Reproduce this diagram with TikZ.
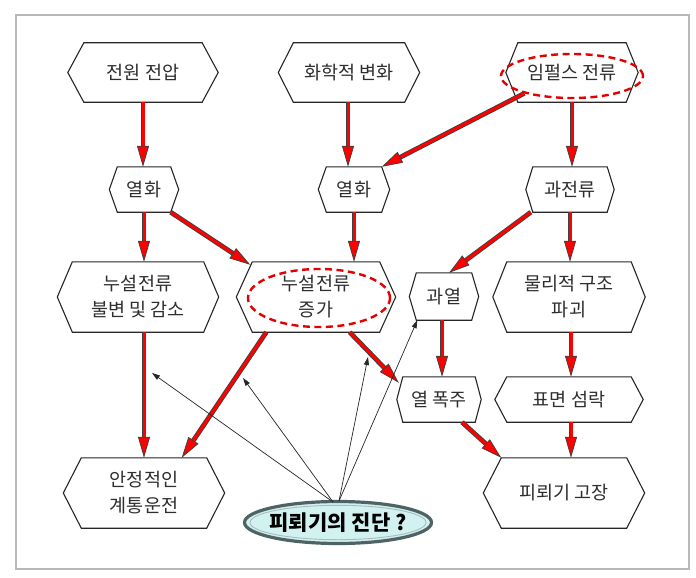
\documentclass[tikz,border=0pt]{standalone}
\usepackage{fontspec}
\setmainfont{Noto Sans CJK KR}
\usetikzlibrary{arrows.meta,shapes.geometric,calc}
\definecolor{txtgray}{HTML}{2E2E2E}
\definecolor{diagfill}{HTML}{D2F2F2}
\definecolor{diagedge}{HTML}{4E6464}
\tikzset{
  hexbox/.style={draw=none, inner sep=0pt, align=center, text=txtgray,
    font=\fontsize{18.5}{26}\selectfont},
  hexline/.style={draw=black!85, line width=1.1pt, line join=miter},
  rarr/.style={line width=3pt, draw=red,
    preaction={draw=black!75, line width=4.8pt, arrows=-, shorten >=16pt},
    -{Triangle[length=21pt,width=12pt,line width=0.8pt 0 0,color=black!75,fill=red]}},
  thinarr/.style={line width=0.7pt, draw=black!85, -{Triangle[length=8pt,width=5pt]}},
  reddash/.style={ellipse, draw=red!90!black, line width=2.4pt, dash pattern=on 7pt off 4.5pt, inner sep=0pt},
}
\newcommand{\hexdraw}[2]{\draw[hexline] (#1.north west) -- (#1.north east) -- ([xshift=#2]#1.east) -- (#1.south east) -- (#1.south west) -- ([xshift=-#2]#1.west) -- cycle;}
\begin{document}
\begin{tikzpicture}[x=1pt,y=-1pt]
\useasboundingbox (0,0) rectangle (696,578);
\fill[white] (0,0) rectangle (696,578);
% frame
\draw[gray!55, line width=2pt] (16,15) rectangle (689,569);

% nodes
\node[hexbox, minimum width=118, minimum height=59] (n1) at (143,72.5) {전원 전압};
\node[hexbox, minimum width=111, minimum height=59] (n2) at (349,72.5) {화학적 변화};
\node[hexbox, minimum width=108, minimum height=59] (n3) at (572,72.5) {임펄스 전류};
\node[hexbox, minimum width=53, minimum height=45] (n4) at (144,189.5) {열화};
\node[hexbox, minimum width=55, minimum height=45] (n5) at (354,189.5) {열화};
\node[hexbox, minimum width=74, minimum height=45] (n6) at (570,189.5) {과전류};
\node[hexbox, minimum width=131, minimum height=70] (n7) at (138,297) {누설전류\\불변 및 감소};
\node[hexbox, minimum width=127, minimum height=70] (n8) at (316,297) {누설전류\\증가};
\node[hexbox, minimum width=55, minimum height=47] (n9) at (444,296.5) {과열};
\node[hexbox, minimum width=124, minimum height=70] (n10) at (569,297) {물리적 구조\\파괴};
\node[hexbox, minimum width=72, minimum height=45] (n11) at (439,399.5) {열 폭주};
\node[hexbox, minimum width=124, minimum height=45] (n12) at (569,399.5) {표면 섬락};
\node[hexbox, minimum width=125, minimum height=70] (n13) at (144,493) {안정적인\\계통운전};
\node[hexbox, minimum width=125, minimum height=70] (n14) at (564,493) {피뢰기 고장};

\hexdraw{n1}{16}
\hexdraw{n2}{15}
\hexdraw{n3}{12}
\hexdraw{n4}{8}
\hexdraw{n5}{8}
\hexdraw{n6}{7}
\hexdraw{n7}{15}
\hexdraw{n8}{16}
\hexdraw{n9}{7}
\hexdraw{n10}{14}
\hexdraw{n11}{6}
\hexdraw{n12}{12}
\hexdraw{n13}{18}
\hexdraw{n14}{18}

% red dashed highlight ellipses
\node[reddash, minimum width=142, minimum height=44] (e1) at (572,76) {};
\node[reddash, minimum width=142, minimum height=58] (e2) at (319,298) {};

% red arrows
\draw[rarr] (n1.south) -- (n1.south |- n4.north);
\draw[rarr] ([xshift=-1]n2.south) -- ([xshift=-1]n2.south |- n5.north);
\draw[rarr] (e1.200) -- (n5.north east);
\draw[rarr] (n3.south) -- (n3.south |- n6.north);
\draw[rarr] (n4.south) -- (n4.south |- n7.north);
\draw[rarr] (n4.south east) -- ([xshift=-2,yshift=-3]n8.north west);
\draw[rarr] (n5.south) -- (n5.south |- n8.north);
\draw[rarr] ([xshift=-2]n6.south west) -- ([xshift=5]n9.north);
\draw[rarr] (n6.south) -- (n6.south |- n10.north);
\draw[rarr] (n4.south |- n7.south) -- (n4.south |- n13.north);
\draw[rarr] ([xshift=14]n8.south west) -- ([xshift=-25]n13.north east);
\draw[rarr] ([xshift=-30]n8.south east) -- ([xshift=-4,yshift=-6]n11.north west);
\draw[rarr] ([xshift=-2]n9.south) -- ([xshift=-2]n9.south |- n11.north);
\draw[rarr] ([xshift=2]n10.south) -- ([xshift=2]n10.south |- n12.north);
\draw[rarr] ([xshift=23]n11.south) -- (n14.north west);
\draw[rarr] ([xshift=2]n12.south) -- ([xshift=2]n12.south |- n14.north);

% diagnosis ellipse
\node[ellipse, minimum width=187, minimum height=42, fill=diagfill, draw=diagedge,
  line width=3.2pt, inner sep=0pt] (d) at (338,522.5) {};
\draw[diagedge!45, line width=0.9pt] (d.center) ellipse [x radius=88, y radius=17.2];
\node[font=\fontsize{21}{24}\bfseries, text=black] (dt) at (d.center) {피뢰기의 진단 ?};

% free arrow ends
\coordinate (t1) at (152,373);
\coordinate (t2) at (243,378);
\coordinate (t3) at (368,357);
\coordinate (s1) at (333,502);
\coordinate (s2) at (339,501);

\draw[thinarr] (s1) -- (t1);
\draw[thinarr] (s1) -- (t2);
\draw[thinarr] (s2) -- (t3);
\draw[thinarr] (s2) -- ([xshift=1]n9.south west);
\end{tikzpicture}
\end{document}
